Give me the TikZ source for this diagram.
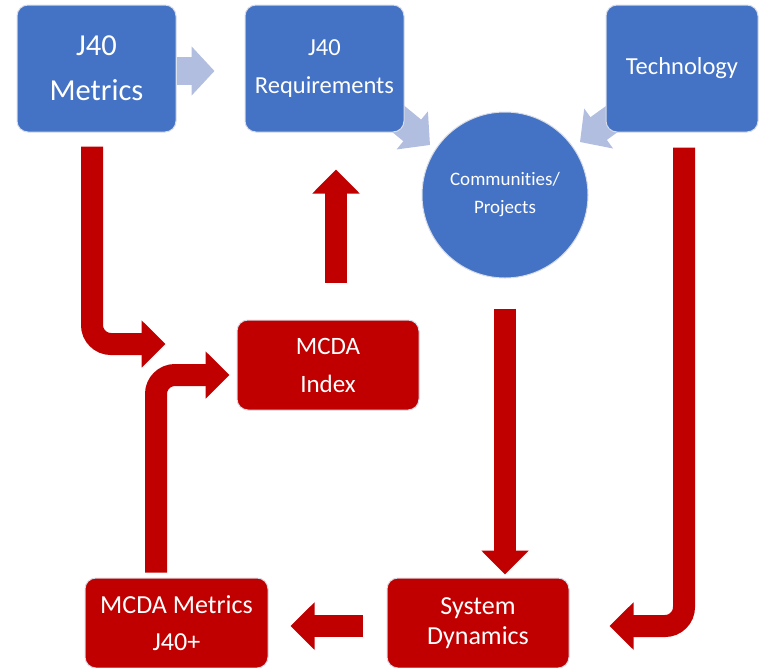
\documentclass[tikz,border=0pt]{standalone}
\usepackage{fontspec}
\setmainfont{Carlito}[Ligatures=NoCommon]
\usetikzlibrary{arrows.meta}
\usetikzlibrary{calc}
\usetikzlibrary{backgrounds}

\definecolor{boxblue}{RGB}{68,114,196}
\definecolor{boxred}{RGB}{192,0,0}
\definecolor{lightarrow}{RGB}{178,190,224}
\definecolor{boxrim}{RGB}{215,220,230}

\tikzset{
  bluebox/.style={draw=boxrim, line width=1, fill=boxblue, text=white, rounded corners=11, inner sep=0, align=center},
  redbox/.style={draw=boxrim, line width=1, fill=boxred, text=white, rounded corners=11, inner sep=0, align=center,
    minimum width=182, minimum height=90},
  redarrow/.style={draw=boxred, line width=22, rounded corners=19, -{Triangle[length=24pt, width=46pt]}},
  paleshaft/.style={draw=lightarrow, line width=28, -{Triangle[length=23pt, width=48pt]}}
}

\begin{document}
\begin{tikzpicture}[x=1pt,y=-1pt]
\useasboundingbox (0,0) rectangle (759,667);

%Shape: J40 Metrics
\node[bluebox, minimum width=159, minimum height=127, font=\fontsize{30.5}{45}\selectfont] (metrics) at (96.5,68.5) {J40\\Metrics};
%Shape: J40 Requirements
\node[bluebox, minimum width=159, minimum height=127, font=\fontsize{24.5}{38}\selectfont] (req) at (324.5,68.5) {J40\\Requirements};
%Shape: Technology
\node[bluebox, minimum width=152, minimum height=127, font=\fontsize{24.5}{30}\selectfont] (tech) at (682,68.5) {Technology};
%Shape: Circle
\node[bluebox, circle, minimum size=166, font=\fontsize{19}{28}\selectfont] (circ) at (505,195) {Communities/\\Projects};

%Shape: MCDA Index
\node[redbox, font=\fontsize{25}{38}\selectfont] (index) at (328,365) {MCDA\\Index};
%Shape: MCDA Metrics J40+
\node[redbox, minimum width=183, font=\fontsize{26}{37}\selectfont] (mcdam) at (176.5,623) {MCDA Metrics\\J40+};
%Shape: System Dynamics
\node[redbox, font=\fontsize{26}{30}\selectfont] (sysdyn) at (478,623) {System\\Dynamics};

%Pale arrows behind the boxes
\begin{pgfonlayer}{background}
\draw[paleshaft] ($(metrics.east)+(0,2.5)$) -- ($(req.west)+(-30,2.5)$);
\draw[paleshaft] ($(req.south east)+(-14,-20)$) -- ($(circ.center)+(-75,-50)$);
\draw[paleshaft] ($(tech.south west)+(14,-19)$) -- ($(circ.center)+(75,-53)$);
\end{pgfonlayer}

%Red arrows
\draw[redarrow] ($(metrics.south)+(-4.5,14)$) |- ($(index.west)+(-71,-21)$);
\draw[redarrow] ($(mcdam.north)+(-20.5,-5)$) |- ($(index.west)+(-7,10)$);
\draw[redarrow] ($(index.north)+(8,-37)$) -- ($(req.south)+(11.5,37)$);
\draw[redarrow] ($(circ.south)+(0,30)$) -- ($(sysdyn.north)+(27,-3)$);
\draw[redarrow] ($(tech.south)+(2,15)$) |- ($(sysdyn.east)+(40,3)$);
\draw[redarrow] ($(sysdyn.west)+(-24,3)$) -- ($(mcdam.east)+(22,3)$);

\end{tikzpicture}
\end{document}
